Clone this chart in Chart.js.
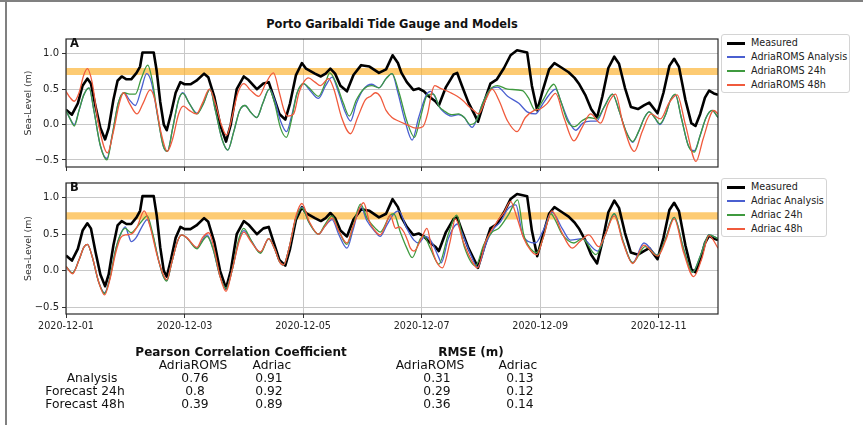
<!DOCTYPE html>
<html>
<head>
<meta charset="utf-8">
<script src="https://cdn.jsdelivr.net/npm/chart.js@4/dist/chart.umd.min.js"></script>
<style>
body { margin: 0; background: #fff; font-family: 'DejaVu Sans', sans-serif; }
#page { position: relative; width: 863px; height: 425px; overflow: hidden; }
canvas { position: absolute; }
.frameTop { position: absolute; left: 0; top: 0; width: 863px; height: 2px; background: #808080; }
.frameLeft { position: absolute; left: 5px; top: 0; width: 2px; height: 425px; background: #808080; }
.title { position: absolute; left: 392px; top: 24px; transform: translate(-50%, -50%); font-weight: bold; font-size: 11.4px; white-space: nowrap; color: #111; }
.panelTag { position: absolute; left: 70px; font-weight: bold; font-size: 11.5px; color: #111; transform: translateY(-50%); }
.legend { position: absolute; left: 721px; border: 1px solid #d4d4d4; border-radius: 3px; background: #fff; }
.legend .row { position: absolute; left: 0; height: 14px; white-space: nowrap; font-size: 9.6px; color: #222; }
.legend .swatch { position: absolute; left: 5px; top: 6px; width: 18px; }
.legend .txt { position: absolute; left: 29px; top: 0; line-height: 14px; }
.cell { position: absolute; white-space: nowrap; font-size: 12.3px; color: #111; transform: translate(-50%, -50%); }
.cell.head { font-weight: bold; font-size: 12px; }
</style>
</head>
<body>
<div id="page">
  <div class="frameTop"></div>
  <div class="frameLeft"></div>
  <div class="title">Porto Garibaldi Tide Gauge and Models</div>
  <canvas id="chartA" width="700" height="146" style="left:20px;top:30px"></canvas>
  <canvas id="chartB" width="700" height="170" style="left:20px;top:174px"></canvas>
  <div class="panelTag" style="top:43px">A</div>
  <div class="panelTag" style="top:187px">B</div>
  <div id="legendA" class="legend" style="top:34px;width:127px;height:57px"></div>
  <div id="legendB" class="legend" style="top:178px;width:104px;height:57px"></div>
  <div id="table"></div>
</div>
<script>
// x in days since 2020-12-01 00:00
var tickDays = [0, 2, 4, 6, 8, 10];
var dateLabels = ['2020-12-01', '2020-12-03', '2020-12-05', '2020-12-07', '2020-12-09', '2020-12-11'];
var yTicks = [-0.5, 0, 0.5, 1];
var band = [0.7, 0.8];

var measured = [[0,0.21],[0.1,0.14],[0.2,0.3],[0.28,0.55],[0.36,0.65],[0.42,0.58],[0.5,0.25],[0.58,-0.05],[0.66,-0.21],[0.72,-0.05],[0.8,0.35],[0.87,0.62],[0.94,0.68],[1.02,0.64],[1.1,0.64],[1.19,0.73],[1.25,0.82],[1.29,1.02],[1.48,1.02],[1.53,0.76],[1.59,0.32],[1.65,0.0],[1.7,-0.08],[1.77,0.15],[1.85,0.45],[1.93,0.6],[2.0,0.57],[2.1,0.57],[2.2,0.62],[2.33,0.72],[2.4,0.67],[2.5,0.4],[2.6,0.0],[2.7,-0.24],[2.78,0.0],[2.88,0.5],[3.0,0.68],[3.08,0.63],[3.22,0.5],[3.33,0.58],[3.42,0.6],[3.5,0.4],[3.6,0.15],[3.7,0.07],[3.78,0.3],[3.88,0.7],[3.98,0.87],[4.05,0.79],[4.2,0.72],[4.3,0.68],[4.38,0.72],[4.46,0.79],[4.54,0.72],[4.63,0.55],[4.74,0.47],[4.85,0.7],[4.98,0.84],[5.12,0.82],[5.28,0.73],[5.4,0.78],[5.51,0.98],[5.6,0.87],[5.66,0.73],[5.75,0.6],[5.86,0.49],[5.95,0.51],[6.04,0.47],[6.12,0.4],[6.23,0.33],[6.29,0.27],[6.41,0.53],[6.54,0.71],[6.6,0.73],[6.68,0.55],[6.79,0.31],[6.9,0.13],[6.95,0.04],[7.05,0.31],[7.16,0.58],[7.27,0.64],[7.39,0.8],[7.5,0.98],[7.61,1.05],[7.78,1.02],[7.86,0.55],[7.95,0.2],[8.05,0.5],[8.15,0.78],[8.24,0.87],[8.37,0.8],[8.48,0.74],[8.58,0.66],[8.66,0.57],[8.76,0.42],[8.86,0.22],[8.96,0.1],[9.05,0.4],[9.15,0.8],[9.25,0.96],[9.33,0.86],[9.43,0.52],[9.53,0.25],[9.65,0.22],[9.75,0.27],[9.84,0.31],[9.98,0.16],[10.08,0.45],[10.18,0.83],[10.26,0.93],[10.34,0.82],[10.45,0.35],[10.55,0.02],[10.62,-0.02],[10.7,0.15],[10.78,0.38],[10.85,0.48],[10.93,0.44],[11.0,0.42]];

var romsAnalysis = [[0,0.2],[0.07,0.08],[0.14,0.0],[0.22,0.2],[0.3,0.42],[0.39,0.52],[0.47,0.2],[0.58,-0.3],[0.69,-0.48],[0.78,-0.15],[0.88,0.3],[0.98,0.45],[1.07,0.35],[1.17,0.27],[1.27,0.5],[1.36,0.72],[1.44,0.6],[1.55,0.1],[1.64,-0.3],[1.71,-0.38],[1.8,-0.05],[1.9,0.35],[1.97,0.45],[2.08,0.3],[2.21,0.16],[2.32,0.3],[2.43,0.5],[2.52,0.2],[2.63,-0.2],[2.73,-0.36],[2.83,-0.1],[2.93,0.2],[3.02,0.27],[3.12,0.17],[3.22,0.1],[3.32,0.3],[3.43,0.5],[3.52,0.35],[3.62,0.05],[3.72,-0.1],[3.8,0.1],[3.9,0.45],[4.01,0.58],[4.1,0.5],[4.26,0.37],[4.38,0.55],[4.49,0.67],[4.58,0.5],[4.7,0.2],[4.8,0.05],[4.9,0.3],[5.02,0.5],[5.16,0.57],[5.28,0.52],[5.4,0.65],[5.5,0.72],[5.6,0.45],[5.72,0.05],[5.84,-0.22],[5.95,0.1],[6.08,0.42],[6.15,0.47],[6.22,0.4],[6.3,0.25],[6.37,0.18],[6.5,0.12],[6.62,0.14],[6.72,0.1],[6.8,0.0],[6.85,-0.04],[6.92,0.05],[7.03,0.3],[7.16,0.5],[7.28,0.53],[7.45,0.4],[7.64,0.3],[7.78,0.18],[7.92,0.15],[8.05,0.3],[8.18,0.45],[8.26,0.5],[8.36,0.3],[8.48,0.05],[8.6,-0.08],[8.72,0.02],[8.85,0.05],[8.95,0.05],[9.08,0.25],[9.22,0.43],[9.33,0.2],[9.45,-0.1],[9.56,-0.25],[9.66,-0.1],[9.76,0.1],[9.84,0.18],[9.93,0.1],[10.02,0.0],[10.12,0.15],[10.2,0.35],[10.28,0.42],[10.38,0.1],[10.5,-0.3],[10.6,-0.37],[10.7,-0.15],[10.8,0.1],[10.9,0.2],[11.0,0.1]];

var roms24h = [[0,0.2],[0.07,0.08],[0.14,-0.02],[0.22,0.2],[0.3,0.42],[0.39,0.52],[0.47,0.2],[0.58,-0.3],[0.69,-0.5],[0.78,-0.15],[0.88,0.3],[0.98,0.45],[1.07,0.43],[1.17,0.43],[1.27,0.65],[1.38,0.84],[1.46,0.6],[1.55,0.1],[1.64,-0.3],[1.71,-0.38],[1.8,-0.05],[1.9,0.35],[1.97,0.44],[2.08,0.3],[2.21,0.15],[2.32,0.3],[2.43,0.5],[2.52,0.2],[2.63,-0.2],[2.73,-0.36],[2.83,-0.1],[2.93,0.2],[3.02,0.27],[3.12,0.17],[3.22,0.1],[3.32,0.3],[3.43,0.5],[3.52,0.3],[3.62,-0.05],[3.72,-0.18],[3.8,0.05],[3.9,0.45],[4.01,0.58],[4.1,0.52],[4.26,0.4],[4.38,0.6],[4.45,0.73],[4.55,0.6],[4.68,0.3],[4.78,0.12],[4.9,0.35],[5.02,0.5],[5.16,0.55],[5.28,0.52],[5.4,0.65],[5.5,0.72],[5.62,0.45],[5.75,0.05],[5.88,-0.18],[5.98,0.1],[6.1,0.42],[6.2,0.43],[6.3,0.25],[6.37,0.2],[6.5,0.14],[6.62,0.15],[6.72,0.1],[6.82,0.0],[6.92,0.05],[7.03,0.3],[7.16,0.5],[7.28,0.55],[7.45,0.5],[7.7,0.48],[7.8,0.38],[7.92,0.2],[8.05,0.35],[8.15,0.5],[8.23,0.57],[8.34,0.35],[8.46,0.05],[8.58,-0.03],[8.7,0.05],[8.82,0.1],[8.95,0.08],[9.08,0.25],[9.22,0.43],[9.33,0.2],[9.45,-0.1],[9.56,-0.24],[9.66,-0.1],[9.76,0.1],[9.84,0.18],[9.93,0.1],[10.02,0.01],[10.12,0.15],[10.2,0.35],[10.28,0.43],[10.38,0.1],[10.5,-0.3],[10.6,-0.39],[10.7,-0.15],[10.8,0.1],[10.9,0.2],[11.0,0.1]];

var roms48h = [[0,0.47],[0.07,0.38],[0.14,0.33],[0.22,0.45],[0.3,0.7],[0.36,0.79],[0.44,0.6],[0.55,0.0],[0.7,-0.4],[0.8,-0.1],[0.9,0.3],[0.97,0.45],[1.07,0.3],[1.2,0.15],[1.3,0.3],[1.42,0.49],[1.5,0.35],[1.6,-0.1],[1.71,-0.38],[1.8,-0.2],[1.9,0.15],[1.98,0.26],[2.08,0.2],[2.2,0.15],[2.3,0.3],[2.42,0.5],[2.52,0.3],[2.62,0.0],[2.71,-0.15],[2.8,0.1],[2.9,0.45],[3.0,0.58],[3.12,0.48],[3.25,0.4],[3.38,0.6],[3.5,0.73],[3.6,0.45],[3.68,0.2],[3.74,0.12],[3.84,0.15],[3.93,0.45],[4.01,0.6],[4.09,0.66],[4.2,0.6],[4.29,0.55],[4.43,0.65],[4.52,0.5],[4.65,0.1],[4.8,-0.13],[4.92,0.1],[5.05,0.35],[5.14,0.4],[5.22,0.45],[5.3,0.4],[5.4,0.2],[5.5,0.1],[5.61,0.05],[5.75,0.0],[5.9,-0.05],[6.02,-0.03],[6.1,0.15],[6.17,0.45],[6.22,0.55],[6.3,0.52],[6.49,0.45],[6.6,0.4],[6.71,0.33],[6.8,0.25],[6.88,0.2],[6.96,0.15],[7.08,0.35],[7.19,0.5],[7.3,0.35],[7.45,0.05],[7.61,-0.1],[7.75,0.1],[7.9,0.2],[8.0,0.22],[8.12,0.3],[8.26,0.44],[8.4,0.1],[8.57,-0.23],[8.7,-0.05],[8.85,0.15],[9.02,0.02],[9.15,0.3],[9.27,0.43],[9.4,0.0],[9.59,-0.38],[9.72,-0.1],[9.87,0.15],[10.03,0.08],[10.17,0.3],[10.31,0.42],[10.45,0.0],[10.63,-0.52],[10.75,-0.2],[10.93,0.2],[11.0,0.15]];

var adriacAnalysis = [[0,0.06],[0.11,-0.03],[0.22,0.15],[0.3,0.32],[0.36,0.36],[0.44,0.2],[0.55,-0.15],[0.65,-0.3],[0.74,-0.1],[0.84,0.3],[0.92,0.5],[1.0,0.6],[1.05,0.5],[1.1,0.4],[1.18,0.45],[1.28,0.6],[1.37,0.7],[1.46,0.5],[1.56,0.15],[1.64,-0.07],[1.7,-0.13],[1.78,0.1],[1.88,0.4],[1.95,0.49],[2.04,0.45],[2.21,0.31],[2.3,0.42],[2.38,0.49],[2.48,0.3],[2.6,-0.08],[2.7,-0.24],[2.8,0.0],[2.92,0.42],[3.0,0.55],[3.12,0.42],[3.28,0.25],[3.42,0.44],[3.52,0.3],[3.6,0.13],[3.67,0.08],[3.76,0.3],[3.88,0.72],[3.98,0.87],[4.1,0.66],[4.26,0.5],[4.36,0.6],[4.49,0.7],[4.6,0.5],[4.74,0.31],[4.84,0.55],[4.97,0.88],[5.08,0.68],[5.22,0.53],[5.3,0.47],[5.41,0.62],[5.53,0.78],[5.61,0.82],[5.75,0.58],[5.87,0.42],[5.95,0.38],[6.06,0.47],[6.15,0.42],[6.29,0.18],[6.33,0.11],[6.45,0.44],[6.6,0.64],[6.66,0.56],[6.74,0.4],[6.85,0.18],[6.94,0.05],[7.1,0.4],[7.22,0.58],[7.33,0.67],[7.45,0.84],[7.59,0.9],[7.7,0.5],[7.8,0.4],[7.92,0.38],[8.05,0.55],[8.2,0.8],[8.37,0.58],[8.51,0.42],[8.71,0.44],[8.97,0.27],[9.1,0.5],[9.25,0.78],[9.4,0.4],[9.56,0.11],[9.75,0.38],[9.98,0.21],[10.12,0.45],[10.26,0.73],[10.42,0.3],[10.57,-0.02],[10.7,0.2],[10.85,0.49],[11.0,0.44]];

var adriac24h = [[0,0.06],[0.11,-0.03],[0.22,0.15],[0.3,0.32],[0.36,0.36],[0.44,0.2],[0.55,-0.15],[0.65,-0.31],[0.74,-0.1],[0.84,0.3],[0.92,0.5],[1.0,0.58],[1.1,0.52],[1.18,0.58],[1.28,0.68],[1.37,0.75],[1.46,0.52],[1.56,0.15],[1.64,-0.07],[1.7,-0.14],[1.78,0.1],[1.88,0.4],[1.95,0.49],[2.04,0.45],[2.21,0.3],[2.3,0.4],[2.38,0.47],[2.48,0.3],[2.6,-0.08],[2.7,-0.24],[2.8,0.0],[2.92,0.45],[3.0,0.58],[3.12,0.42],[3.28,0.24],[3.42,0.44],[3.52,0.3],[3.6,0.13],[3.67,0.08],[3.76,0.3],[3.88,0.72],[3.98,0.86],[4.1,0.66],[4.26,0.5],[4.36,0.62],[4.49,0.75],[4.6,0.55],[4.74,0.36],[4.84,0.6],[4.97,0.91],[5.08,0.72],[5.22,0.58],[5.3,0.53],[5.47,0.76],[5.53,0.78],[5.64,0.53],[5.75,0.31],[5.84,0.18],[5.98,0.44],[6.04,0.47],[6.15,0.3],[6.29,0.09],[6.45,0.5],[6.59,0.76],[6.72,0.33],[6.91,0.07],[7.05,0.36],[7.19,0.53],[7.3,0.58],[7.46,0.76],[7.62,0.97],[7.72,0.5],[7.84,0.3],[7.94,0.25],[8.05,0.45],[8.18,0.78],[8.25,0.7],[8.37,0.5],[8.57,0.38],[8.71,0.44],[8.94,0.22],[9.1,0.5],[9.25,0.78],[9.4,0.4],[9.56,0.11],[9.77,0.33],[9.98,0.21],[10.12,0.45],[10.26,0.73],[10.42,0.3],[10.57,-0.02],[10.7,0.2],[10.85,0.49],[11.0,0.44]];

var adriac48h = [[0,0.06],[0.11,-0.04],[0.22,0.15],[0.3,0.32],[0.36,0.36],[0.44,0.2],[0.55,-0.15],[0.65,-0.33],[0.74,-0.12],[0.84,0.25],[0.92,0.45],[1.0,0.49],[1.1,0.5],[1.2,0.6],[1.32,0.82],[1.42,0.6],[1.54,0.2],[1.64,-0.05],[1.7,-0.12],[1.78,0.1],[1.88,0.4],[1.95,0.49],[2.04,0.45],[2.21,0.32],[2.3,0.45],[2.41,0.52],[2.5,0.3],[2.6,-0.08],[2.7,-0.28],[2.8,0.0],[2.92,0.4],[3.0,0.53],[3.12,0.4],[3.28,0.26],[3.42,0.44],[3.52,0.3],[3.6,0.13],[3.67,0.08],[3.76,0.3],[3.88,0.75],[3.98,0.92],[4.1,0.68],[4.26,0.5],[4.36,0.6],[4.49,0.72],[4.6,0.55],[4.74,0.38],[4.84,0.6],[5.02,0.93],[5.12,0.67],[5.2,0.56],[5.3,0.49],[5.38,0.6],[5.47,0.76],[5.56,0.58],[5.62,0.6],[5.7,0.53],[5.76,0.42],[5.81,0.31],[5.87,0.27],[6.0,0.45],[6.09,0.58],[6.17,0.31],[6.26,0.11],[6.35,0.04],[6.48,0.4],[6.57,0.71],[6.7,0.4],[6.85,0.13],[6.94,0.04],[7.08,0.4],[7.27,0.67],[7.39,0.8],[7.5,0.95],[7.6,0.75],[7.72,0.45],[7.84,0.28],[7.94,0.22],[8.05,0.45],[8.2,0.82],[8.35,0.55],[8.54,0.31],[8.67,0.4],[8.82,0.49],[8.99,0.33],[9.1,0.5],[9.25,0.75],[9.4,0.38],[9.56,0.1],[9.75,0.35],[9.98,0.2],[10.12,0.42],[10.26,0.71],[10.42,0.25],[10.59,-0.08],[10.72,0.15],[10.85,0.48],[11.0,0.31]];

// statistics table
var statRows = ['Analysis', 'Forecast 24h', 'Forecast 48h'];
var pearsonRoms = [0.76, 0.8, 0.39];
var pearsonAdriac = [0.91, 0.92, 0.89];
var rmseRoms = [0.31, 0.29, 0.36];
var rmseAdriac = [0.13, 0.12, 0.14];

var FONT = 'DejaVu Sans';
var colMeasured = '#000000', colAnalysis = '#4a5fd0', col24 = '#3f9a3f', col48 = '#f05a3c';

function pts(arr) {
  return arr.map(function(p) { return {x: p[0], y: p[1]}; });
}

function fmtY(v) {
  return v < 0 ? '\u2212' + Math.abs(v).toFixed(1) : v.toFixed(1);
}

var frameBox = {
  id: 'frameBox',
  afterDraw: function(chart) {
    var a = chart.chartArea, c = chart.ctx;
    c.save();
    c.strokeStyle = '#2a2a2a';
    c.lineWidth = 1.2;
    c.strokeRect(a.left, a.top, a.right - a.left, a.bottom - a.top);
    c.restore();
  }
};

function makePanel(id, names, series, showDates, yMin, yMax, legendId) {
  var colors = [colMeasured, colAnalysis, col24, col48];
  var widths = [2.6, 1.3, 1.3, 1.3];
  var sets = [{
    label: 'band',
    data: pts([[0, band[1]], [11, band[1]]]),
    borderWidth: 0,
    pointRadius: 0,
    backgroundColor: 'rgba(252,175,40,0.65)',
    fill: {value: band[0]},
    order: 10
  }];
  for (var i = 0; i < series.length; i++) {
    sets.push({
      label: names[i],
      data: pts(series[i]),
      borderColor: colors[i],
      borderWidth: widths[i],
      pointRadius: 0,
      fill: false,
      tension: 0,
      cubicInterpolationMode: i == 0 ? 'default' : 'monotone',
      borderJoinStyle: 'round',
      order: 4 - i
    });
  }

  new Chart(document.getElementById(id), {
    type: 'line',
    data: {datasets: sets},
    options: {
      responsive: false,
      animation: false,
      devicePixelRatio: 1,
      layout: {padding: {top: 4, right: 2, left: 0, bottom: 0}},
      plugins: {legend: {display: false}, tooltip: {enabled: false}},
      scales: {
        x: {
          type: 'linear', min: 0, max: 11,
          afterBuildTicks: function(s) { s.ticks = tickDays.map(function(v) { return {value: v}; }); },
          afterFit: function(s) { s.height = showDates ? 30 : 4; },
          border: {display: false},
          grid: {color: '#c8c8c8', lineWidth: 1, tickLength: 4, tickColor: '#333'},
          ticks: {
            display: showDates, maxRotation: 0, autoSkip: false, padding: 3, color: '#222',
            font: {family: FONT, size: 9.6},
            callback: function(v) { return dateLabels[tickDays.indexOf(v)]; }
          }
        },
        y: {
          min: yMin, max: yMax,
          afterBuildTicks: function(s) { s.ticks = yTicks.map(function(v) { return {value: v}; }); },
          afterFit: function(s) { s.width = 46; },
          border: {display: false},
          grid: {color: '#c8c8c8', lineWidth: 1, tickLength: 4, tickColor: '#333'},
          title: {display: true, text: 'Sea-Level (m)', color: '#333', font: {family: FONT, size: 9.4}, padding: {top: 3, bottom: 0}},
          ticks: {padding: 3, color: '#222', font: {family: FONT, size: 10}, callback: fmtY}
        }
      }
    },
    plugins: [frameBox]
  });

  // legend box
  var box = document.getElementById(legendId), html = '';
  for (var j = 0; j < names.length; j++) {
    html += '<div class="row" style="top:' + (1 + j * 14) + 'px">' +
      '<div class="swatch" style="height:' + (j == 0 ? 2.5 : 1.5) + 'px;background:' + colors[j] + '"></div>' +
      '<div class="txt">' + names[j] + '</div></div>';
  }
  box.innerHTML = html;
}

makePanel('chartA', ['Measured', 'AdriaROMS Analysis', 'AdriaROMS 24h', 'AdriaROMS 48h'],
  [measured, romsAnalysis, roms24h, roms48h], false, -0.6, 1.21, 'legendA');
makePanel('chartB', ['Measured', 'Adriac Analysis', 'Adriac 24h', 'Adriac 48h'],
  [measured, adriacAnalysis, adriac24h, adriac48h], true, -0.59, 1.2, 'legendB');

// table under the chart
function cell(txt, cx, cy, head) {
  return '<div class="cell' + (head ? ' head' : '') + '" style="left:' + cx + 'px;top:' + cy + 'px">' + txt + '</div>';
}
var t = '';
t += cell('Pearson Correlation Coefficient', 241, 352, true);
t += cell('RMSE (m)', 471, 352, true);
t += cell('AdriaROMS', 193, 365) + cell('Adriac', 272, 365);
t += cell('AdriaROMS', 430, 365) + cell('Adriac', 518, 365);
var rowY = [378, 391, 403.5];
var rowX = [92, 85, 85];
for (var r = 0; r < statRows.length; r++) {
  t += cell(statRows[r], rowX[r], rowY[r]);
  t += cell(pearsonRoms[r], 195, rowY[r]);
  t += cell(pearsonAdriac[r], 269, rowY[r]);
  t += cell(rmseRoms[r], 437, rowY[r]);
  t += cell(rmseAdriac[r], 520, rowY[r]);
}
document.getElementById('table').innerHTML = t;
</script>
</body>
</html>
